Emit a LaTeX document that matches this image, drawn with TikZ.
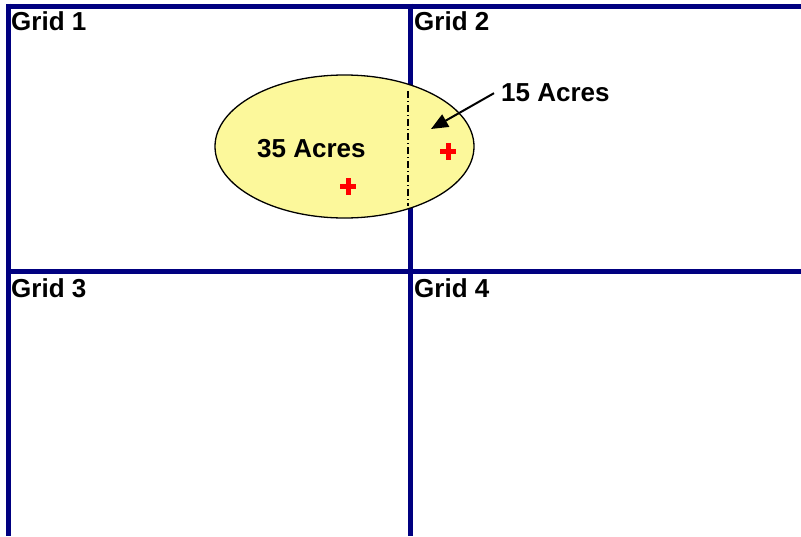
\documentclass[tikz,border=0pt]{standalone}
\usepackage{fontspec}
\setmainfont{Liberation Sans}
\usetikzlibrary{shapes.geometric,arrows.meta}
\definecolor{gridblue}{RGB}{0,0,128}
\definecolor{paleyellow}{RGB}{252,248,155}
\definecolor{plusred}{RGB}{255,0,0}
\tikzset{
  gridline/.style={draw=gridblue,line width=5pt},
  label/.style={inner sep=0pt,anchor=base west,font=\fontsize{26}{30}\selectfont\bfseries},
  area/.style={ellipse,draw=black,line width=1.3pt,fill=paleyellow,minimum width=259pt,minimum height=143pt,inner sep=0pt},
  plusmark/.style={draw=plusred,line width=5pt},
  divider/.style={draw=black,line width=1.3pt,dash pattern=on 7pt off 3pt on 1pt off 3pt},
  pointer/.style={draw=black,line width=2pt,-{Triangle[length=17pt,width=14pt]}}
}
\begin{document}
\begin{tikzpicture}[x=1pt,y=-1pt]
\useasboundingbox (0,0) rectangle (801,536);
% grid lines
\draw[gridline] (6,6) -- (801,6);
\draw[gridline] (6,271) -- (801,271);
\draw[gridline] (8,3.5) -- (8,536);
\draw[gridline] (410,3.5) -- (410,536);
% grid labels
\node[label] (g1) at (11,30) {Grid 1};
\node[label] (g2) at (414,30) {Grid 2};
\node[label] (g3) at (11,297) {Grid 3};
\node[label] (g4) at (414,297) {Grid 4};
% ellipse
\node[area] (ell) at (344.5,146.5) {};
\draw[divider] (408,91) -- (408,206);
% plus marks
\draw[plusmark] (340,186.5) -- (356,186.5);
\draw[plusmark] (348,178) -- (348,195);
\draw[plusmark] (440,151.5) -- (456,151.5);
\draw[plusmark] (448,143) -- (448,160);
% labels
\node[label] (a35) at (257,157) {35 Acres};
\node[label] (a15) at (501,101) {15 Acres};
\coordinate (tip) at (431,129);
\draw[pointer] ([xshift=-7pt,yshift=-1pt]a15.west) -- (tip);
\end{tikzpicture}
\end{document}
